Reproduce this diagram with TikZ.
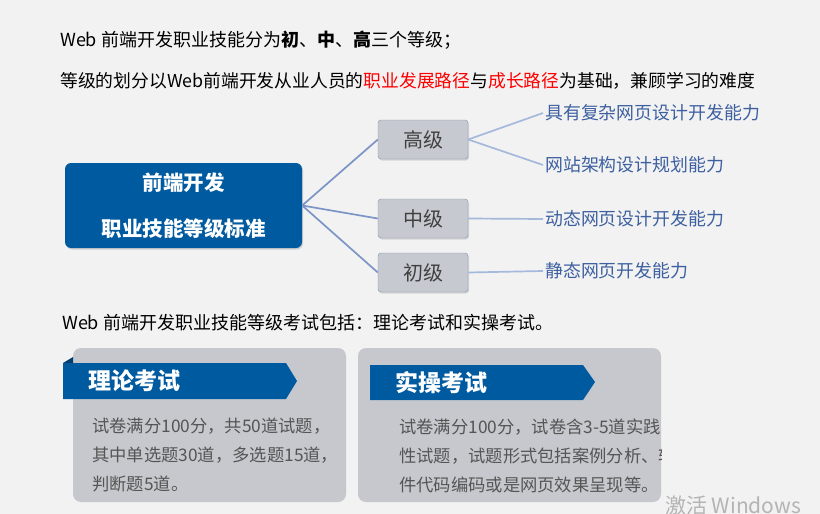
\documentclass[tikz,border=0pt]{standalone}
\usepackage{fontspec}
\setmainfont{Noto Sans CJK SC}
\usetikzlibrary{positioning,arrows.meta,shadows}
\definecolor{bggrey}{HTML}{F2F2F2}
\definecolor{mainblue}{HTML}{005A9F}
\definecolor{folddark}{HTML}{003E70}
\definecolor{lvlgrey}{HTML}{C6C9CF}
\definecolor{lvledge}{HTML}{8393AE}
\definecolor{lvltext}{HTML}{404040}
\definecolor{linkblue}{HTML}{7B95C6}
\definecolor{sublinkblue}{HTML}{A5B9DD}
\definecolor{skillblue}{HTML}{3D60A0}
\definecolor{cardgrey}{HTML}{C6C8CD}
\definecolor{bodytext}{HTML}{555555}
\definecolor{wmgrey}{HTML}{B4B4B4}

\begin{document}
\begin{tikzpicture}[x=1pt,y=-1pt,
  txt/.style={anchor=west,inner sep=0pt,text=black},
  mainbox/.style={fill=mainblue,rounded corners=6pt,minimum width=237pt,minimum height=85pt,text=white,align=center,font=\bfseries\fontsize{20.5}{46}\selectfont,drop shadow={opacity=0.3,shadow xshift=1pt,shadow yshift=-1.5pt}},
  lvlbox/.style={draw=lvledge,fill=lvlgrey,rounded corners=3pt,minimum width=90pt,minimum height=39pt,text=lvltext,font=\fontsize{20}{24}\selectfont,drop shadow={opacity=0.25,shadow xshift=1pt,shadow yshift=-1.5pt}},
  skill/.style={anchor=west,inner sep=2pt,text=skillblue,font=\fontsize{17.9}{21}\selectfont},
  link/.style={draw=linkblue,line width=1.7pt},
  sublink/.style={draw=sublinkblue,line width=1.7pt},
  card/.style={fill=cardgrey,rounded corners=8pt},
  cardtitle/.style={anchor=west,inner sep=0pt,text=white,font=\bfseries\fontsize{23}{26}\selectfont},
  body/.style={anchor=west,inner sep=0pt,text=bodytext,align=left,font=\fontsize{17.3}{29}\selectfont}]
\fill[bggrey] (0,0) rectangle (820,514);
\useasboundingbox (0,0) rectangle (820,514);

% intro lines
\node[txt,font=\fontsize{18}{22}\selectfont] (intro) at (60,40) {Web 前端开发职业技能分为\textbf{初}、\textbf{中}、\textbf{高}三个等级；};
\node[txt,font=\fontsize{17.8}{22}\selectfont] (basis) at (60,81) {等级的划分以Web前端开发从业人员的\textcolor{red}{职业发展路径}与\textcolor{red}{成长路径}为基础，兼顾学习的难度};

% levels
\node[mainbox] (std) at (183.5,205.5) {前端开发\\职业技能等级标准};
\node[lvlbox] (hi) at (423,139.5) {高级};
\node[lvlbox] (mid) at (423,218.5) {中级};
\node[lvlbox] (lo) at (423,272.5) {初级};
\draw[link] (std.east) -- (hi.west);
\draw[link] (std.east) -- (mid.west);
\draw[link] (std.east) -- (lo.west);

\node[skill] (complex) at (543,113) {具有复杂网页设计开发能力};
\node[skill] (arch) at (543,165) {网站架构设计规划能力};
\node[skill] (dyn) at (543,219) {动态网页设计开发能力};
\node[skill] (stat) at (543,271) {静态网页开发能力};
\draw[sublink] (hi.east) -- (complex.west);
\draw[sublink] (hi.east) -- (arch.west);
\draw[sublink] (mid.east) -- (dyn.west);
\draw[sublink] (lo.east) -- (stat.west);

% exams
\node[txt,font=\fontsize{18}{22}\selectfont] (exams) at (62,323) {Web 前端开发职业技能等级考试包括：理论考试和实操考试。};

\fill[card] (73,348) rectangle (346,502);
\fill[mainblue] (63,363) -- (286,363) -- (297,381) -- (286,399) -- (63,399) -- cycle;
\fill[folddark] (63,363) -- (73,357) -- (73,363) -- cycle;
\node[cardtitle] (theory) at (88,381) {理论考试};
\node[body] (theorytxt) at (92,455) {试卷满分100分，共50道试题，\\其中单选题30道，多选题15道，\\判断题5道。};

\fill[card] (358,348) rectangle (661,502);
\fill[mainblue] (370,365) -- (583,365) -- (595,382) -- (583,400) -- (370,400) -- cycle;
\node[cardtitle] (practice) at (395,383) {实操考试};
\begin{scope}
\clip (358,348) rectangle (661,502);
\node[body] (practicetxt) at (399,456) {试卷满分100分，试卷含3-5道实践\\性试题，试题形式包括案例分析、软\\件代码编码或是网页效果呈现等。};
\end{scope}

\node[txt,text=wmgrey,font=\fontsize{21}{24}\selectfont] (wm) at (665,506) {激活 Windows};
\end{tikzpicture}
\end{document}
